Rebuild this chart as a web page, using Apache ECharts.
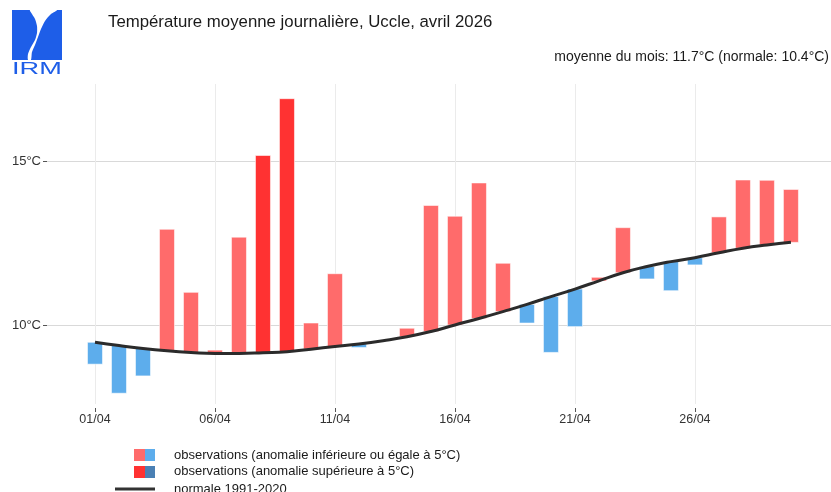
<!DOCTYPE html>
<html>
<head>
<meta charset="utf-8">
<script src="https://cdn.jsdelivr.net/npm/echarts@6/dist/echarts.min.js"></script>
<style>
  html, body { margin: 0; padding: 0; background: #fff; }
  #chart { width: 831px; height: 492px; }
</style>
</head>
<body>
<div id="chart"></div>
<script>
// Days of April 2026
const days = [1, 2, 3, 4, 5, 6, 7, 8, 9, 10, 11, 12, 13, 14, 15,
  16, 17, 18, 19, 20, 21, 22, 23, 24, 25, 26, 27, 28, 29, 30];

// Observed daily mean temperature (°C)
const observed = [8.80, 7.91, 8.44, 12.93, 11.00, 9.23, 12.69, 15.19, 16.93, 10.06,
  11.57, 9.31, 9.52, 9.90, 13.66, 13.33, 14.35, 11.89, 10.06, 9.16,
  9.95, 11.46, 12.98, 11.41, 11.05, 11.84, 13.31, 14.44, 14.43, 14.15];

// Normal 1991-2020 (°C)
const normal = [9.47, 9.37, 9.28, 9.21, 9.16, 9.13, 9.13, 9.15, 9.18, 9.26,
  9.34, 9.42, 9.52, 9.64, 9.80, 10.00, 10.20, 10.41, 10.63, 10.87,
  11.10, 11.35, 11.60, 11.79, 11.94, 12.06, 12.21, 12.35, 12.45, 12.53];

// Axis ticks
const xTickDays = [1, 6, 11, 16, 21, 26];
const xTickLabels = ['01/04', '06/04', '11/04', '16/04', '21/04', '26/04'];
const yTickValues = [10, 15];
const yTickLabels = ['10°C', '15°C'];

const FONT = 'Liberation Sans, Arial, sans-serif';
const COLORS = {
  warm: '#FF6B6B',
  warmStrong: '#FF3232',
  cold: '#5DADEC',
  coldStrong: '#4A80B4',
};

function barColor(obs, norm) {
  const anomaly = obs - norm;
  if (anomaly > 5) return COLORS.warmStrong;
  if (anomaly >= 0) return COLORS.warm;
  if (anomaly < -5) return COLORS.coldStrong;
  return COLORS.cold;
}

const barData = days.map((d, i) => [d, normal[i], observed[i]]);
const lineData = days.map((d, i) => [d, normal[i]]);

const chart = echarts.init(document.getElementById('chart'), null, { renderer: 'canvas' });

// IRM logo (decorative)
const LOGO_BLUE = '#1E5EE8';
const logo = [
  { type: 'rect', shape: { x: 12, y: 10, width: 50, height: 50 }, style: { fill: LOGO_BLUE } },
  {
    type: 'polygon',
    shape: {
      points: [[30, 10], [57, 10], [51, 14], [45, 21], [41, 29], [38, 37], [35, 45],
        [32, 52], [31, 60], [28, 60], [28, 54], [31, 47], [35, 40], [37, 33],
        [37, 26], [35, 19], [32, 14]],
      smooth: 0.25,
    },
    style: { fill: '#ffffff' },
  },
  {
    type: 'text', x: 12, y: 69, scaleX: 1.6, originX: 0, originY: 0,
    style: { text: 'IRM', fill: LOGO_BLUE, font: '17px ' + FONT, verticalAlign: 'middle' },
  },
];

// Legend (two-colour swatches, drawn by hand)
const legendText = (label, y) => ({
  type: 'text',
  style: { x: 174, y: y, text: label, fill: '#1a1a1a', font: '13px ' + FONT, verticalAlign: 'middle' },
});
const legendItems = [
  { type: 'rect', shape: { x: 134, y: 449, width: 11, height: 12 }, style: { fill: COLORS.warm } },
  { type: 'rect', shape: { x: 145, y: 449, width: 10, height: 12 }, style: { fill: COLORS.cold } },
  { type: 'rect', shape: { x: 134, y: 466, width: 11, height: 12 }, style: { fill: COLORS.warmStrong } },
  { type: 'rect', shape: { x: 145, y: 466, width: 10, height: 12 }, style: { fill: COLORS.coldStrong } },
  { type: 'line', shape: { x1: 115, y1: 489, x2: 155, y2: 489 }, style: { stroke: '#333', lineWidth: 3 } },
  legendText('observations (anomalie inférieure ou égale à 5°C)', 455),
  legendText('observations (anomalie supérieure à 5°C)', 471),
  legendText('normale 1991-2020', 489),
];

const option = {
  animation: false,
  backgroundColor: '#ffffff',
  textStyle: { fontFamily: FONT },
  title: [
    {
      text: 'Température moyenne journalière, Uccle, avril 2026',
      left: 103, top: 9,
      textStyle: { fontSize: 16.8, fontWeight: 'normal', color: '#1a1a1a', fontFamily: FONT },
    },
    {
      text: 'moyenne du mois: 11.7°C (normale: 10.4°C)',
      right: -3, top: 45,
      textStyle: { fontSize: 14, fontWeight: 'normal', color: '#1a1a1a', fontFamily: FONT },
    },
  ],
  graphic: logo.concat(legendItems),
  grid: { left: 47, right: 0, top: 84, bottom: 88, containLabel: false },
  xAxis: {
    type: 'value',
    min: -1,
    max: 31.67,
    offset: 4,
    axisLine: { show: false, onZero: false },
    axisTick: { show: true, length: 4, customValues: xTickDays, lineStyle: { color: '#555' } },
    axisLabel: {
      customValues: xTickDays,
      margin: 5,
      fontSize: 12.5,
      color: '#333',
      formatter: v => xTickLabels[xTickDays.indexOf(v)] || '',
    },
    splitLine: { show: true, lineStyle: { color: '#EBEBEB', width: 1 } },
  },
  yAxis: {
    type: 'value',
    min: 7.58,
    max: 17.38,
    axisLine: { show: false, onZero: false },
    axisTick: { show: true, length: 4, customValues: yTickValues, lineStyle: { color: '#555' } },
    axisLabel: {
      customValues: yTickValues,
      margin: 6,
      fontSize: 13,
      color: '#333',
      formatter: v => yTickLabels[yTickValues.indexOf(v)] || '',
    },
    splitLine: { show: true, lineStyle: { color: '#D9D9D9', width: 1 } },
  },
  series: [
    {
      name: 'observations',
      type: 'custom',
      data: barData,
      encode: { x: 0, y: [1, 2] },
      renderItem: (params, api) => {
        const day = api.value(0);
        const norm = api.value(1);
        const obs = api.value(2);
        const p0 = api.coord([day, norm]);
        const p1 = api.coord([day, obs]);
        const w = 15;
        return {
          type: 'rect',
          shape: {
            x: p0[0] - w / 2,
            y: Math.min(p0[1], p1[1]),
            width: w,
            height: Math.abs(p1[1] - p0[1]),
          },
          style: {
            fill: barColor(obs, norm),
            stroke: 'rgba(255,255,255,0.55)',
            lineWidth: 1,
          },
        };
      },
      z: 2,
    },
    {
      name: 'normale 1991-2020',
      type: 'line',
      data: lineData,
      smooth: true,
      showSymbol: false,
      lineStyle: { color: '#2b2b2b', width: 3 },
      z: 3,
    },
  ],
};

chart.setOption(option);
</script>
</body>
</html>
